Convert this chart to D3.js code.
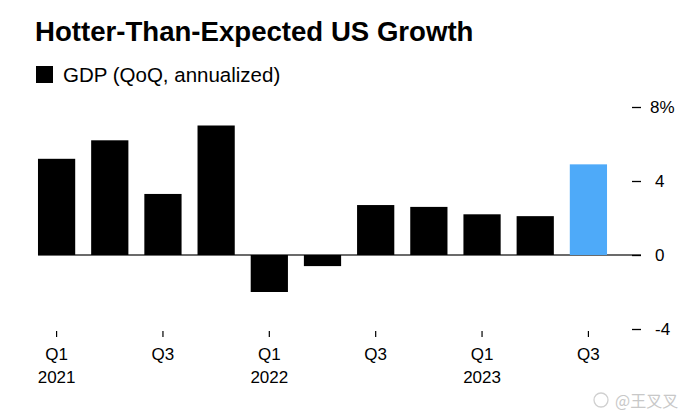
<!DOCTYPE html>
<html>
<head>
<meta charset="utf-8">
<script src="https://cdn.jsdelivr.net/npm/d3@7"></script>
<style>
  html, body { margin: 0; padding: 0; background: #fff; }
  svg { display: block; font-family: "Liberation Sans", Arial, Helvetica, sans-serif; }
</style>
</head>
<body>
<svg id="chart" width="690" height="416"></svg>
<script>
// ---- data ----
const quarters = ["Q1 2021","Q2 2021","Q3 2021","Q4 2021","Q1 2022","Q2 2022","Q3 2022","Q4 2022","Q1 2023","Q2 2023","Q3 2023"];
const gdp = [5.2, 6.2, 3.3, 7.0, -2.0, -0.6, 2.7, 2.6, 2.2, 2.1, 4.9];
const yTicks = [-4, 0, 4, 8];
const xTickQuarters = ["Q1 2021","Q3 2021","Q1 2022","Q3 2022","Q1 2023","Q3 2023"];
const titleText = "Hotter-Than-Expected US Growth";
const legendText = "GDP (QoQ, annualized)";
const watermark = "@王叉叉";

// ---- drawing ----
const svg = d3.select("#chart");

const x = d3.scaleBand().domain(quarters).range([30, 615]).paddingInner(0.3).paddingOuter(0.15);
const y = d3.scaleLinear().domain([-4, 8]).range([329, 107]);

// title
svg.append("text").attr("x", 35).attr("y", 41)
  .attr("font-size", 27.6).attr("font-weight", "bold").attr("fill", "#000")
  .text(titleText);

// legend
svg.append("rect").attr("x", 36).attr("y", 66).attr("width", 17).attr("height", 17).attr("fill", "#000");
svg.append("text").attr("x", 63).attr("y", 82).attr("font-size", 20.5).attr("fill", "#000").text(legendText);

// zero line
svg.append("line")
  .attr("x1", x(quarters[0])).attr("x2", 641)
  .attr("y1", y(0)).attr("y2", y(0))
  .attr("stroke", "#3a3a3a").attr("stroke-width", 1.4);

// bars
svg.append("g").selectAll("rect").data(gdp).join("rect")
  .attr("x", (d, i) => x(quarters[i]))
  .attr("width", x.bandwidth())
  .attr("y", d => y(Math.max(0, d)))
  .attr("height", d => Math.abs(y(d) - y(0)))
  .attr("fill", (d, i) => i === gdp.length - 1 ? "#4eaaf9" : "#000");

// y axis (right)
const yAxis = d3.axisRight(y).tickValues(yTicks).tickSize(9).tickPadding(14)
  .tickFormat(d => d === 8 ? d + "%" : String(d));
const gy = svg.append("g").attr("transform", "translate(632,0)").call(yAxis);
gy.select(".domain").remove();
gy.selectAll(".tick line").attr("stroke", "#000").attr("stroke-width", 1.3);
gy.selectAll(".tick text").attr("font-size", 17).attr("fill", "#000")
  .attr("font-family", "Liberation Sans, Arial, sans-serif")
  .attr("dx", d => d === 8 ? -5 : 0);

// x axis (bottom)
const xAxis = d3.axisBottom(x).tickValues(xTickQuarters).tickSize(6).tickPadding(11)
  .tickFormat(d => d.split(" ")[0]);
const gx = svg.append("g").attr("transform", "translate(0,331)").call(xAxis);
gx.select(".domain").remove();
gx.selectAll(".tick line").attr("stroke", "#000").attr("stroke-width", 1.2);
gx.selectAll(".tick text").attr("font-size", 17).attr("fill", "#000")
  .attr("font-family", "Liberation Sans, Arial, sans-serif")
  .each(function(d) {
    const [q, yr] = d.split(" ");
    if (q === "Q1") {
      d3.select(this).append("tspan").attr("x", 0).attr("dy", "1.33em").text(yr);
    }
  });

// watermark
svg.append("text").attr("x", 615).attr("y", 407).attr("font-size", 16)
  .attr("fill", "#c8c8c8").attr("font-family", "Noto Sans CJK SC, sans-serif").text(watermark);
svg.append("circle").attr("cx", 601).attr("cy", 400).attr("r", 7).attr("fill", "none").attr("stroke", "#d0d0d0").attr("stroke-width", 1.3);
</script>
</body>
</html>
